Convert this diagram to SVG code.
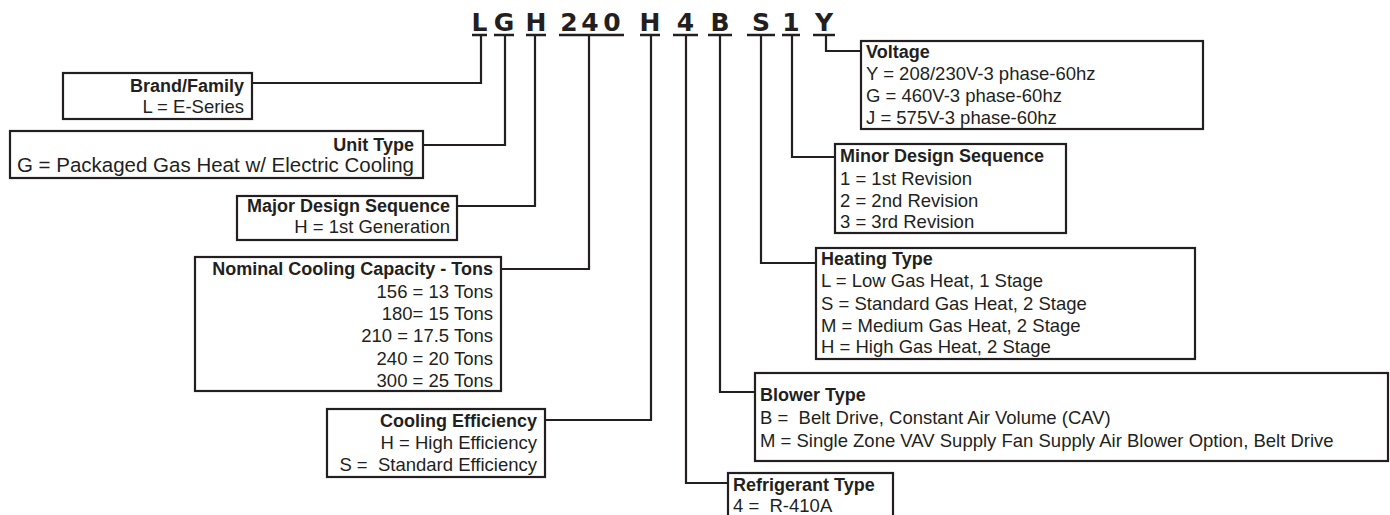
<svg xmlns="http://www.w3.org/2000/svg" width="1390" height="515" viewBox="0 0 1390 515">
<style>
.code{font-family:"DejaVu Sans",sans-serif;font-weight:bold;font-size:25px;fill:#231f20;text-anchor:middle}
.ul{stroke:#231f20;stroke-width:2.5;fill:none}
.box{fill:#fff;stroke:#231f20;stroke-width:2.2}
.conn{fill:none;stroke:#231f20;stroke-width:2.2}
.t{font-family:"Liberation Sans",Arial,sans-serif;font-weight:bold;font-size:18px;fill:#231f20}
.v{font-family:"Liberation Sans",Arial,sans-serif;font-size:18.5px;fill:#231f20}
.r{text-anchor:end}
</style>
<rect width="1390" height="515" fill="#fff"/>
<g id="code">
<text class="code" x="479.5" y="31">L</text>
<text class="code" x="504" y="31">G</text>
<text class="code" x="536" y="31">H</text>
<text class="code" x="569" y="31">2</text>
<text class="code" x="590" y="31">4</text>
<text class="code" x="612" y="31">0</text>
<text class="code" x="650" y="31">H</text>
<text class="code" x="685.5" y="31">4</text>
<text class="code" x="720" y="31">B</text>
<text class="code" x="761" y="31">S</text>
<text class="code" x="791" y="31">1</text>
<text class="code" x="824" y="31">Y</text>
<line class="ul" x1="472" y1="35" x2="487" y2="35"/>
<line class="ul" x1="494" y1="35" x2="514" y2="35"/>
<line class="ul" x1="526" y1="35" x2="546" y2="35"/>
<line class="ul" x1="559" y1="35" x2="624" y2="35"/>
<line class="ul" x1="640" y1="35" x2="660" y2="35"/>
<line class="ul" x1="673" y1="35" x2="698" y2="35"/>
<line class="ul" x1="708" y1="35" x2="732" y2="35"/>
<line class="ul" x1="747" y1="35" x2="775" y2="35"/>
<line class="ul" x1="782" y1="35" x2="800" y2="35"/>
<line class="ul" x1="813" y1="35" x2="835" y2="35"/>
</g>
<g id="connectors">
<polyline class="conn" points="481,35 481,83 252,83"/>
<polyline class="conn" points="505,35 505,145 423,145"/>
<polyline class="conn" points="535,35 535,206 457,206"/>
<polyline class="conn" points="589,35 589,269 501,269"/>
<polyline class="conn" points="651,35 651,420 545,420"/>
<polyline class="conn" points="686,35 686,483 728,483"/>
<polyline class="conn" points="720,35 720,392 755,392"/>
<polyline class="conn" points="761,35 761,263 816,263"/>
<polyline class="conn" points="792,35 792,157 835,157"/>
<polyline class="conn" points="826,35 826,51 861,51"/>
</g>
<g id="brand">
<rect class="box" x="63" y="73" width="189" height="46"/>
<text class="t r" x="244" y="92">Brand/Family</text>
<text class="v r" x="244" y="113">L = E-Series</text>
</g>
<g id="unit-type">
<rect class="box" x="10" y="131" width="413" height="47"/>
<text class="t r" x="414" y="151">Unit Type</text>
<text class="v r" x="414" y="172" style="font-size:20.5px">G = Packaged Gas Heat w/ Electric Cooling</text>
</g>
<g id="major-design">
<rect class="box" x="237" y="196" width="220" height="44"/>
<text class="t r" x="450" y="212">Major Design Sequence</text>
<text class="v r" x="450" y="233">H = 1st Generation</text>
</g>
<g id="nominal-capacity">
<rect class="box" x="195" y="257" width="306" height="134"/>
<text class="t r" x="493" y="275">Nominal Cooling Capacity - Tons</text>
<text class="v r" x="493" y="298">156 = 13 Tons</text>
<text class="v r" x="493" y="320">180= 15 Tons</text>
<text class="v r" x="493" y="342">210 = 17.5 Tons</text>
<text class="v r" x="493" y="365">240 = 20 Tons</text>
<text class="v r" x="493" y="387">300 = 25 Tons</text>
</g>
<g id="cooling-efficiency">
<rect class="box" x="327" y="409" width="218" height="68"/>
<text class="t r" x="537" y="427">Cooling Efficiency</text>
<text class="v r" x="537" y="449">H = High Efficiency</text>
<text class="v r" x="537" y="471" xml:space="preserve">S =  Standard Efficiency</text>
</g>
<g id="voltage">
<rect class="box" x="861" y="41" width="342" height="88"/>
<text class="t" x="866" y="58">Voltage</text>
<text class="v" x="866" y="80">Y = 208/230V-3 phase-60hz</text>
<text class="v" x="866" y="102">G = 460V-3 phase-60hz</text>
<text class="v" x="866" y="124">J = 575V-3 phase-60hz</text>
</g>
<g id="minor-design">
<rect class="box" x="835" y="144" width="231" height="89"/>
<text class="t" x="840" y="162">Minor Design Sequence</text>
<text class="v" x="840" y="185">1 = 1st Revision</text>
<text class="v" x="840" y="207">2 = 2nd Revision</text>
<text class="v" x="840" y="228">3 = 3rd Revision</text>
</g>
<g id="heating-type">
<rect class="box" x="816" y="248" width="379" height="111"/>
<text class="t" x="821" y="265">Heating Type</text>
<text class="v" x="821" y="287">L = Low Gas Heat, 1 Stage</text>
<text class="v" x="821" y="310">S = Standard Gas Heat, 2 Stage</text>
<text class="v" x="821" y="332">M = Medium Gas Heat, 2 Stage</text>
<text class="v" x="821" y="353">H = High Gas Heat, 2 Stage</text>
</g>
<g id="blower-type">
<rect class="box" x="755" y="373" width="633" height="88"/>
<text class="t" x="760" y="401">Blower Type</text>
<text class="v" x="760" y="424" xml:space="preserve">B =  Belt Drive, Constant Air Volume (CAV)</text>
<text class="v" x="760" y="447">M = Single Zone VAV Supply Fan Supply Air Blower Option, Belt Drive</text>
</g>
<g id="refrigerant-type">
<rect class="box" x="728" y="473" width="165" height="50"/>
<text class="t" x="733" y="491">Refrigerant Type</text>
<text class="v" x="733" y="512" xml:space="preserve">4 =  R-410A</text>
</g>
</svg>
